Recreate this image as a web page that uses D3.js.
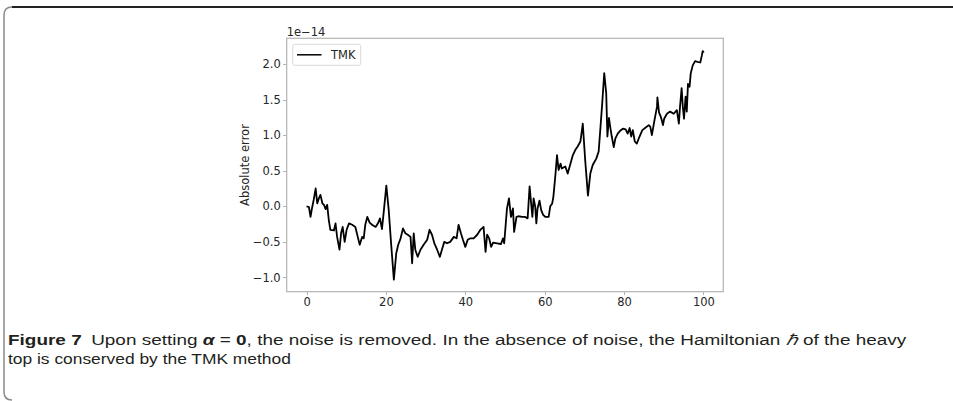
<!DOCTYPE html>
<html>
<head>
<meta charset="utf-8">
<script src="https://cdn.jsdelivr.net/npm/d3@7"></script>
<style>
  body { margin: 0; background: #fff; }
  svg { display: block; }
  .axis text { font: 11.5px "DejaVu Sans", sans-serif; fill: #262626; }
  .axis path, .axis line { fill: none; stroke: #b3b3b3; shape-rendering: crispEdges; }
  .line { fill: none; stroke: #000; stroke-width: 1.8; stroke-linejoin: round; }
  .caption { font-family: "Liberation Sans", sans-serif; font-size: 15px; fill: #231f20; }
</style>
</head>
<body>
<svg id="chart"></svg>
<script>
// time axis
const time = [0, 0.6, 1.0, 1.4, 1.8, 2.3, 2.7, 3.1, 3.5, 4.0, 4.4, 4.8, 5.2, 5.6, 6.0, 6.9, 7.3, 7.7, 8.3, 8.7, 9.1, 9.6, 10.1, 10.7, 11.5, 12.3, 12.9, 13.4, 14.0, 14.4, 14.8, 15.3, 15.9, 16.5, 17.4, 18.0, 18.5, 19.0, 19.5, 20.1, 20.7, 21.3, 22.0, 22.6, 23.1, 23.7, 24.3, 24.9, 25.5, 26.2, 26.6, 27.0, 27.4, 28.0, 28.7, 29.5, 30.4, 31.0, 31.6, 32.2, 32.9, 33.6, 34.1, 34.7, 35.4, 36.2, 37.1, 37.8, 38.3, 38.9, 39.4, 40.0, 40.6, 41.3, 42.1, 43.0, 43.8, 44.2, 44.6, 45.1, 45.5, 46.0, 46.5, 47.0, 48.0, 49.0, 49.5, 49.8, 50.5, 51.0, 51.5, 52.0, 52.3, 52.9, 53.4, 54.3, 55.1, 55.7, 56.2, 56.5, 56.9, 57.2, 57.6, 57.9, 58.2, 58.7, 59.1, 59.6, 60.2, 61.0, 61.4, 61.9, 62.2, 62.7, 63.1, 63.5, 64.0, 64.3, 65.2, 65.8, 66.4, 67.1, 67.7, 68.3, 69.0, 69.6, 70.2, 70.9, 71.5, 72.1, 73.0, 73.6, 74.0, 74.5, 75.0, 75.5, 75.8, 76.2, 76.5, 76.9, 77.4, 77.8, 78.4, 79.0, 79.7, 80.4, 80.9, 81.4, 81.8, 82.2, 82.7, 83.2, 83.9, 84.6, 85.3, 86.2, 86.6, 87.0, 87.6, 88.3, 88.4, 88.8, 89.3, 89.8, 90.1, 90.8, 91.6, 92.5, 93.3, 93.8, 94.1, 94.5, 94.8, 95.1, 95.5, 95.8, 96.1, 96.5, 96.8, 97.3, 97.9, 98.5, 99.2, 99.6, 99.8, 100.1];

// absolute error, in units of 1e-14
const absErr = [0.00, -0.01, -0.15, -0.02, 0.09, 0.25, 0.04, 0.11, 0.16, 0.04, 0.02, -0.04, 0.02, -0.19, -0.33, -0.34, -0.24, -0.43, -0.61, -0.38, -0.29, -0.50, -0.33, -0.24, -0.26, -0.29, -0.43, -0.54, -0.43, -0.45, -0.26, -0.15, -0.23, -0.26, -0.29, -0.24, -0.17, -0.32, -0.05, 0.29, -0.05, -0.52, -1.03, -0.66, -0.54, -0.45, -0.31, -0.38, -0.40, -0.43, -0.80, -0.38, -0.61, -0.71, -0.61, -0.54, -0.47, -0.33, -0.40, -0.52, -0.61, -0.71, -0.61, -0.50, -0.52, -0.50, -0.43, -0.45, -0.26, -0.38, -0.47, -0.57, -0.47, -0.45, -0.45, -0.40, -0.33, -0.31, -0.29, -0.64, -0.40, -0.45, -0.57, -0.51, -0.52, -0.53, -0.45, -0.52, -0.03, 0.11, -0.15, -0.03, -0.36, -0.15, -0.14, -0.15, -0.15, -0.17, 0.28, 0.09, -0.15, 0.11, 0.00, -0.24, -0.03, 0.08, -0.05, -0.12, -0.15, -0.15, 0.00, 0.04, 0.14, 0.44, 0.72, 0.51, 0.60, 0.53, 0.56, 0.46, 0.58, 0.72, 0.79, 0.84, 0.91, 1.16, 0.65, 0.15, 0.46, 0.58, 0.67, 0.77, 1.07, 1.45, 1.87, 1.59, 0.98, 1.24, 1.12, 0.98, 0.83, 0.95, 1.02, 1.06, 1.09, 1.08, 1.02, 1.10, 0.98, 1.07, 0.91, 0.88, 0.98, 1.07, 1.10, 1.14, 1.12, 1.00, 1.19, 1.40, 1.53, 1.32, 1.25, 1.14, 1.23, 1.30, 1.33, 1.30, 1.35, 1.16, 1.40, 1.66, 1.40, 1.23, 1.54, 1.33, 1.72, 1.68, 1.87, 1.98, 2.04, 2.03, 2.02, 2.12, 2.18, 2.16];

const xTicks = [0, 20, 40, 60, 80, 100];
const yTicks = [-1.0, -0.5, 0.0, 0.5, 1.0, 1.5, 2.0];
const seriesName = 'TMK';
const yLabel = 'Absolute error';
const offsetText = '1e\u221214';

var W = 953, H = 401;
var plot = {left: 286.7, right: 723.3, top: 38.3, bottom: 291.7};

const svg = d3.select('#chart')
  .attr('width', W)
  .attr('height', H);

// outer figure frame (rounded corner at left)
svg.append('path')
  .attr('d', 'M4,392 L4,15 Q4,7 12,7')
  .attr('fill', 'none')
  .attr('stroke', '#8a8a8a')
  .attr('stroke-width', 1.5);
svg.append('path')
  .attr('d', 'M4,392 Q4,400 12,400')
  .attr('fill', 'none')
  .attr('stroke', '#8a8a8a')
  .attr('stroke-width', 1.5);
svg.append('line')
  .attr('x1', 12).attr('x2', W)
  .attr('y1', 7).attr('y2', 7)
  .attr('stroke', '#222')
  .attr('stroke-width', 2);

const x = d3.scaleLinear()
  .domain([-5, 105])
  .range([plot.left, plot.right]);

const y = d3.scaleLinear()
  .domain([-1.2, 2.36])
  .range([plot.bottom, plot.top]);

const xAxis = d3.axisBottom(x)
  .tickValues(xTicks)
  .tickSize(3.5)
  .tickPadding(3)
  .tickFormat(d3.format('d'));

const yAxis = d3.axisLeft(y)
  .tickValues(yTicks)
  .tickSize(3.5)
  .tickPadding(2.5)
  .tickFormat(d3.format('.1f'));

const data = time.map((t, i) => ({t: t, v: absErr[i]}));

const line = d3.line()
  .x(d => x(d.t))
  .y(d => y(d.v));

svg.append('path')
  .datum(data)
  .attr('class', 'line')
  .attr('d', line);

// axes frame
svg.append('rect')
  .attr('x', plot.left)
  .attr('y', plot.top)
  .attr('width', plot.right - plot.left)
  .attr('height', plot.bottom - plot.top)
  .attr('fill', 'none')
  .attr('stroke', '#b3b3b3')
  .attr('stroke-width', 1.2);

svg.append('g')
  .attr('class', 'x axis')
  .attr('transform', `translate(0,${plot.bottom})`)
  .call(xAxis)
  .call(g => g.select('.domain').remove());

svg.append('g')
  .attr('class', 'y axis')
  .attr('transform', `translate(${plot.left},0)`)
  .call(yAxis)
  .call(g => g.select('.domain').remove());

svg.append('text')
  .attr('x', plot.left)
  .attr('y', 35.5)
  .style('font', '11.5px "DejaVu Sans", sans-serif')
  .style('fill', '#262626')
  .text(offsetText);

svg.append('text')
  .attr('transform', `translate(249,${(plot.top + plot.bottom) / 2}) rotate(-90)`)
  .style('text-anchor', 'middle')
  .style('font', '11.5px "DejaVu Sans", sans-serif')
  .style('fill', '#262626')
  .text(yLabel);

// legend
const legend = svg.append('g');
legend.append('rect')
  .attr('x', 292.7).attr('y', 44.3)
  .attr('width', 68).attr('height', 21)
  .attr('rx', 2)
  .attr('fill', '#fff')
  .attr('stroke', '#d9d9d9');
legend.append('line')
  .attr('x1', 297).attr('x2', 321.5)
  .attr('y1', 54.8).attr('y2', 54.8)
  .attr('stroke', '#000')
  .attr('stroke-width', 1.5);
legend.append('text')
  .attr('x', 331).attr('y', 59)
  .style('font', '11.5px "DejaVu Sans", sans-serif')
  .style('fill', '#262626')
  .text(seriesName);

// caption, squeezed to the condensed width of the original
function captionLine(yPos, parts, width) {
  const t = svg.append('text')
    .attr('class', 'caption')
    .attr('x', 0)
    .attr('y', 0);
  parts.forEach(p => {
    t.append('tspan')
      .style('font-weight', p.b ? 'bold' : null)
      .style('font-style', p.i ? 'italic' : null)
      .text(p.s);
  });
  const w = t.node().getComputedTextLength();
  t.attr('transform', `translate(8,${yPos}) scale(${width / w},1)`);
}

captionLine(345, [
  {s: 'Figure 7', b: true},
  {s: '\u2002Upon setting '},
  {s: '\u03b1', b: true, i: true},
  {s: ' = '},
  {s: '0', b: true},
  {s: ', the noise is removed. In the absence of noise, the Hamiltonian '},
  {s: '\u210f', i: true},
  {s: ' of the heavy'}
], 898);

captionLine(364, [
  {s: 'top is conserved by the TMK method'}
], 283);
</script>
</body>
</html>
